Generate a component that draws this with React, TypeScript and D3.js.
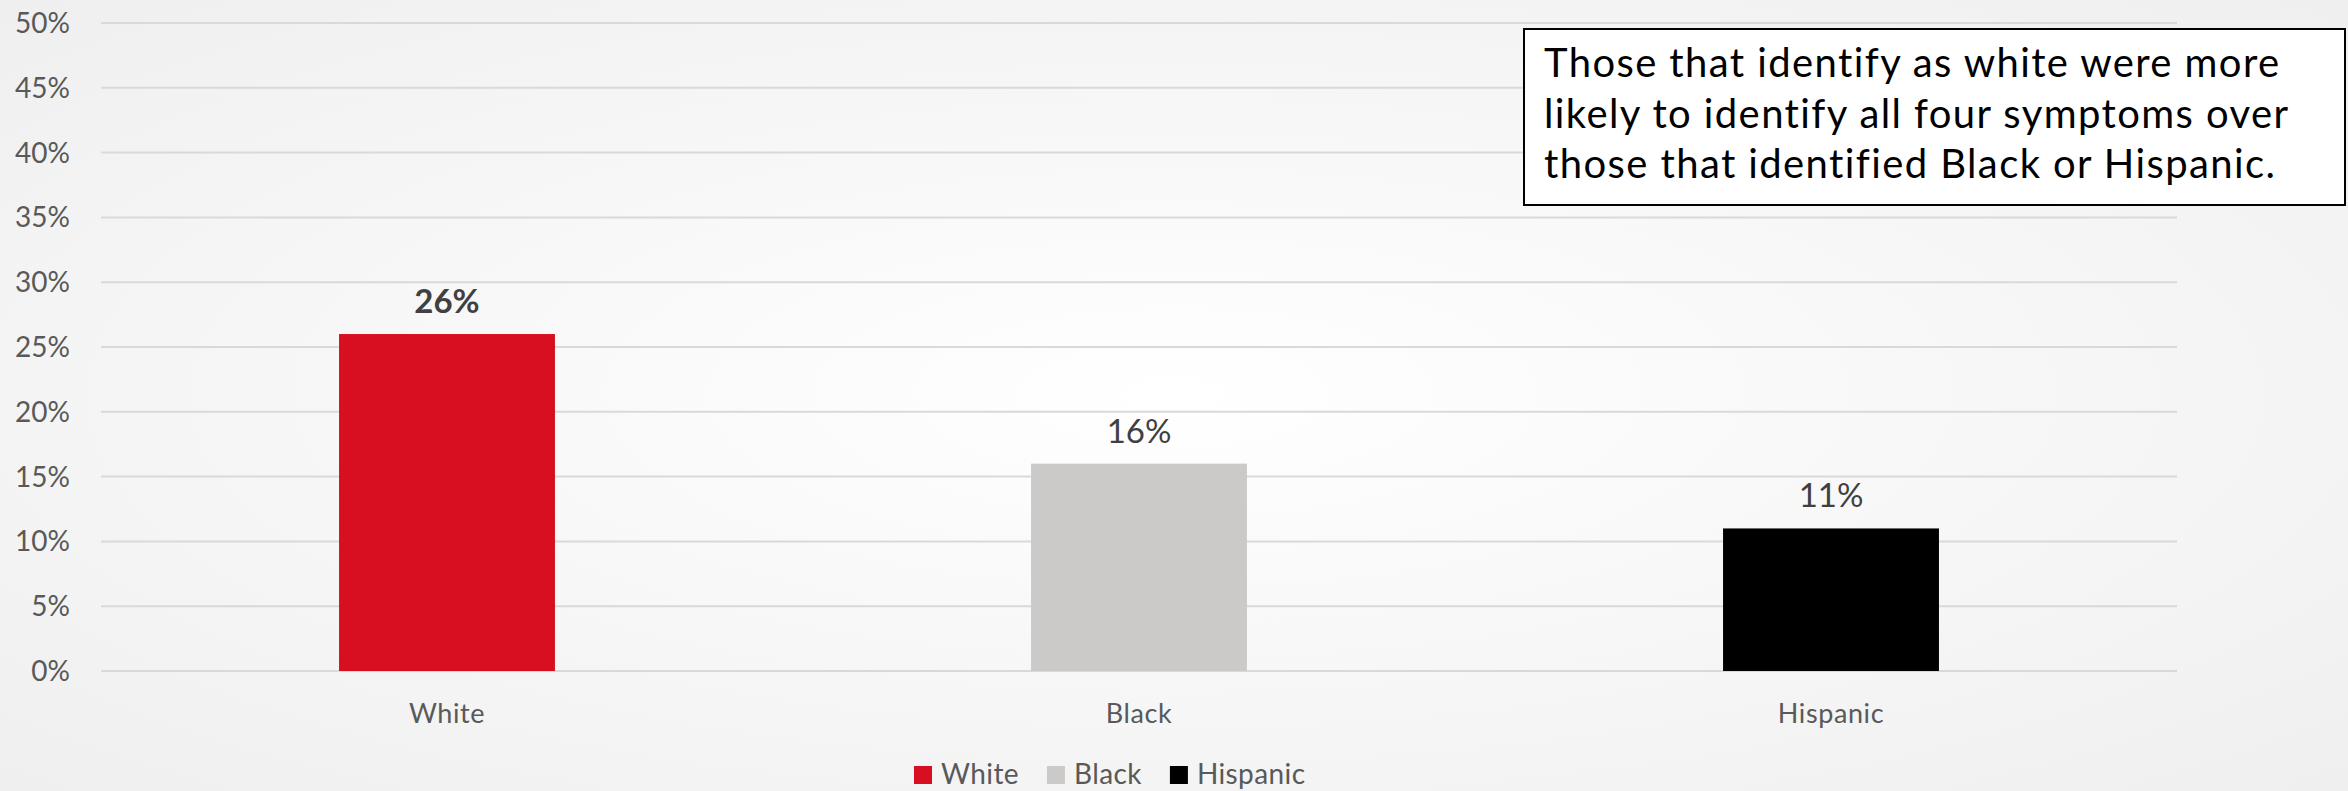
import React, { useEffect, useRef } from 'react';
import * as d3 from 'd3';

const categories = ['White', 'Black', 'Hispanic'];
const values = [26, 16, 11];
const barColors = ['#d70f21', '#cccac8', '#000000'];
const labelBold = [true, false, false];
const yTicks = [0, 5, 10, 15, 20, 25, 30, 35, 40, 45, 50];
const annotationLines = [
  'Those that identify as white were more',
  'likely to identify all four symptoms over',
  'those that identified Black or Hispanic.',
];

const W = 2348;
const H = 791;
const FONT = 'Lato, "Open Sans", sans-serif';

export default function App() {
  const ref = useRef<SVGSVGElement | null>(null);

  useEffect(() => {
    const svg = d3.select(ref.current);
    svg.selectAll('*').remove();

    const defs = svg.append('defs');
    const grad = defs.append('radialGradient').attr('id', 'bg').attr('cx', '50%').attr('cy', '50%').attr('r', '75%');
    grad.append('stop').attr('offset', '0%').attr('stop-color', '#ffffff');
    grad.append('stop').attr('offset', '100%').attr('stop-color', '#eeeeee');
    svg.append('rect').attr('width', W).attr('height', H).attr('fill', 'url(#bg)');

    const y = d3.scaleLinear().domain([0, 50]).range([671, 23]);
    const x = d3.scaleBand<string>().domain(categories).range([101, 2177]).paddingInner(0.688).paddingOuter(0.344);

    // gridlines
    svg.append('g').selectAll('line').data(yTicks).join('line')
      .attr('x1', 101).attr('x2', 2177)
      .attr('y1', d => y(d)).attr('y2', d => y(d))
      .attr('stroke', '#d9d9d9').attr('stroke-width', 2);

    // y tick labels
    svg.append('g').selectAll('text').data(yTicks).join('text')
      .attr('x', 70).attr('y', d => y(d)).attr('dy', '0.36em')
      .attr('text-anchor', 'end')
      .attr('font-family', FONT).attr('font-size', 28).attr('fill', '#595959')
      .text(d => `${d}%`);

    // bars
    svg.append('g').selectAll('rect').data(categories).join('rect')
      .attr('x', d => x(d)!).attr('width', x.bandwidth())
      .attr('y', (d, i) => y(values[i])).attr('height', (d, i) => y(0) - y(values[i]))
      .attr('fill', (d, i) => barColors[i]);

    // value labels
    svg.append('g').selectAll('text').data(categories).join('text')
      .attr('x', d => x(d)! + x.bandwidth() / 2)
      .attr('y', (d, i) => y(values[i]) - 21)
      .attr('text-anchor', 'middle')
      .attr('font-family', FONT).attr('font-size', 33)
      .attr('font-weight', (d, i) => (labelBold[i] ? 'bold' : 'normal'))
      .attr('fill', '#404040')
      .text((d, i) => `${values[i]}%`);

    // category labels
    svg.append('g').selectAll('text').data(categories).join('text')
      .attr('x', d => x(d)! + x.bandwidth() / 2)
      .attr('y', 723)
      .attr('text-anchor', 'middle')
      .attr('font-family', FONT).attr('font-size', 27).attr('letter-spacing', 0.6).attr('fill', '#595959')
      .text(d => d);

    // legend
    const lg = svg.append('g');
    let cx = 914;
    categories.forEach((c, i) => {
      lg.append('rect').attr('x', cx).attr('y', 766).attr('width', 18).attr('height', 18).attr('fill', barColors[i]);
      const t = lg.append('text').attr('x', cx + 27).attr('y', 784)
        .attr('font-family', FONT).attr('font-size', 28).attr('letter-spacing', 0.4).attr('fill', '#595959').text(c);
      const w = (t.node() as SVGTextElement).getComputedTextLength();
      cx = cx + 27 + w + 28;
    });

    // annotation box
    const ag = svg.append('g');
    ag.append('rect').attr('x', 1524).attr('y', 29).attr('width', 821).attr('height', 176)
      .attr('fill', '#ffffff').attr('stroke', '#000000').attr('stroke-width', 2);
    ag.selectAll('text').data(annotationLines).join('text')
      .attr('x', 1544).attr('y', (d, i) => 77 + i * 50.5)
      .attr('font-family', FONT).attr('font-size', 40).attr('letter-spacing', 1.4).attr('fill', '#000000')
      .text(d => d);
  }, []);

  return (
    <svg ref={ref} width={W} height={H} style={{ position: 'absolute', left: 0, top: 0, display: 'block' }} />
  );
}
